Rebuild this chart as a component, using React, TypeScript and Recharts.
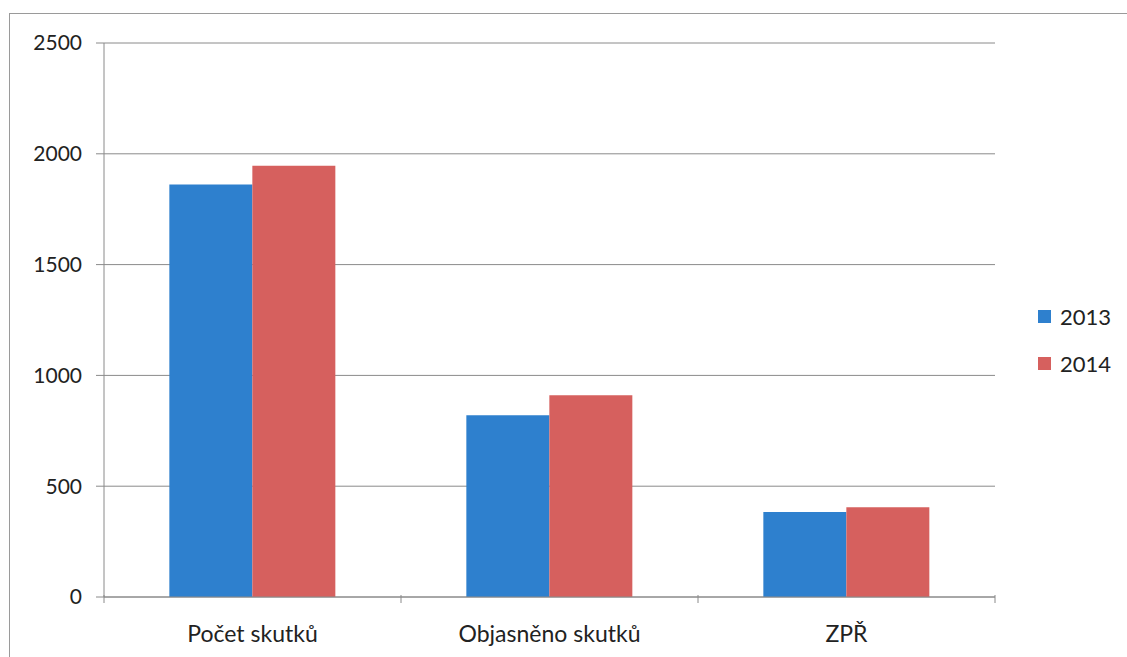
import React from "react";
import { BarChart, Bar, XAxis, YAxis, CartesianGrid } from "recharts";

const categories = ["Počet skutků", "Objasněno skutků", "ZPŘ"];
const values2013 = [1862, 820, 384];
const values2014 = [1946, 910, 405];
const yTicks = [0, 500, 1000, 1500, 2000, 2500];
const seriesLabels = ["2013", "2014"];
const seriesColors = ["#2E80CE", "#D6605E"];

const data = categories.map((name, i) => ({ name, y2013: values2013[i], y2014: values2014[i] }));

const W = 1127;
const H = 657;
const PLOT_LEFT = 104;
const PLOT_RIGHT = 995;
const BAND = (PLOT_RIGHT - PLOT_LEFT) / categories.length;
const FONT = "Lato, 'Open Sans', sans-serif";
const AXIS = "#8a8a8a";

// category label plus tick marks at band edges (Excel style)
function CatTick(props: any) {
  const { x, y, payload, index } = props;
  return (
    <g>
      {index === 0 && <line x1={x - BAND / 2} x2={x - BAND / 2} y1={y - 10} y2={y - 2} stroke={AXIS} />}
      <line x1={x + BAND / 2} x2={x + BAND / 2} y1={y - 10} y2={y - 2} stroke={AXIS} />
      <text x={x} y={y + 37} textAnchor="middle" fontSize={23} fill="#222" fontFamily={FONT}>
        {payload.value}
      </text>
    </g>
  );
}

function LegendBox() {
  return (
    <div style={{ position: "absolute", left: 1038, top: 293, fontFamily: FONT, fontSize: 22, color: "#222" }}>
      {seriesLabels.map((label, i) => (
        <div key={label} style={{ display: "flex", alignItems: "center", height: 47 }}>
          <span style={{ width: 13, height: 13, background: seriesColors[i], marginRight: 9, display: "inline-block" }} />
          {label}
        </div>
      ))}
    </div>
  );
}

export default function App() {
  return (
    <div style={{ position: "absolute", left: 0, top: 0, width: W, height: H, background: "#fff", overflow: "hidden" }}>
      <div
        style={{
          position: "absolute",
          left: 9,
          top: 13,
          width: W + 10,
          height: H + 10,
          border: "1px solid #9a9a9a",
          boxSizing: "border-box",
        }}
      />
      <BarChart
        width={W}
        height={H}
        data={data}
        margin={{ top: 43, right: W - PLOT_RIGHT, bottom: 0, left: 0 }}
        barCategoryGap="22%"
        barGap={0}
        style={{ position: "absolute", left: 0, top: 0 }}
      >
        <CartesianGrid vertical={false} stroke={AXIS} />
        <XAxis
          dataKey="name"
          tick={<CatTick />}
          tickLine={false}
          axisLine={{ stroke: AXIS }}
          interval={0}
          height={60}
        />
        <YAxis
          type="number"
          domain={[0, 2500]}
          ticks={yTicks}
          width={PLOT_LEFT}
          tickSize={8}
          tickMargin={14}
          tickLine={{ stroke: AXIS }}
          axisLine={{ stroke: AXIS }}
          tick={{ fontSize: 21, fill: "#222", fontFamily: FONT }}
        />
        <Bar dataKey="y2013" name={seriesLabels[0]} fill={seriesColors[0]} isAnimationActive={false} />
        <Bar dataKey="y2014" name={seriesLabels[1]} fill={seriesColors[1]} isAnimationActive={false} />
      </BarChart>
      <LegendBox />
    </div>
  );
}
